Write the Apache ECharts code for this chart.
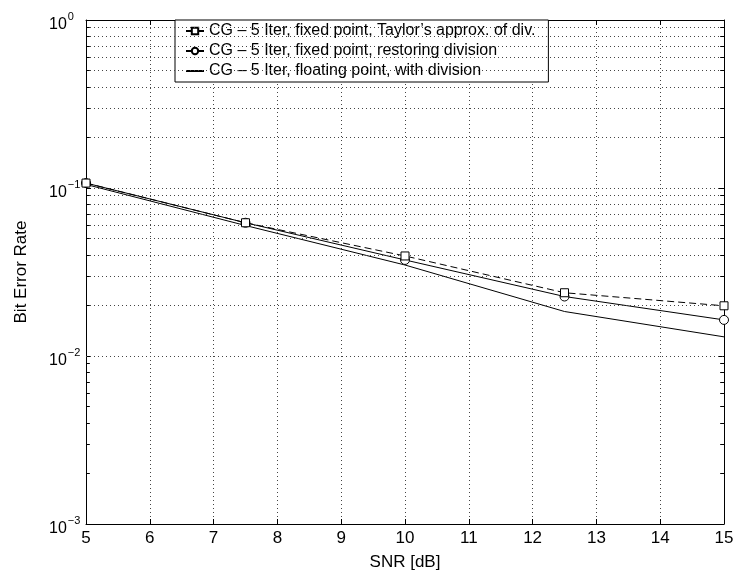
<!DOCTYPE html>
<html>
<head>
<meta charset="utf-8">
<script src="https://cdn.jsdelivr.net/npm/echarts@6/dist/echarts.min.js"></script>
<style>
html,body{margin:0;padding:0;background:#fff;}
#chart{width:738px;height:579px;}
</style>
</head>
<body>
<div id="chart"></div>
<script>
// ---- data ----
var snr = [5, 7.5, 10, 12.5, 15];
var berTaylor = [0.107, 0.0621, 0.0394, 0.0238, 0.0199];
var berRestoring = [0.107, 0.0621, 0.0373, 0.0226, 0.0164];
var berFloating = [0.105, 0.0598, 0.0348, 0.0184, 0.0130];
var seriesNames = [
  "CG \u2013 5 Iter, fixed point, Taylor\u2019s approx. of div.",
  "CG \u2013 5 Iter, fixed point, restoring division",
  "CG \u2013 5 Iter, floating point, with division"
];
var xTicks = [5, 6, 7, 8, 9, 10, 11, 12, 13, 14, 15];
var yExponents = [-3, -2, -1, 0];
var minorMultipliers = [2, 3, 4, 5, 6, 7, 8, 9];

var FONT = "Liberation Sans, Arial, Helvetica, sans-serif";

function pairs(xs, ys) {
  return xs.map(function (x, i) { return [x, ys[i]]; });
}

// minor grid values
var minorVals = [];
for (var e = yExponents[0]; e < yExponents[yExponents.length - 1]; e++) {
  minorMultipliers.forEach(function (m) { minorVals.push(m * Math.pow(10, e)); });
}
var xMin = xTicks[0], xMax = xTicks[xTicks.length - 1];
var gridLines = minorVals.map(function (v) { return { yAxis: v }; });
var tickLen = 0.06;
var minorTicks = [];
minorVals.forEach(function (v) {
  minorTicks.push([{ coord: [xMin, v] }, { coord: [xMin + tickLen, v] }]);
  minorTicks.push([{ coord: [xMax - tickLen, v] }, { coord: [xMax, v] }]);
});

function supLabel(v) {
  var e = Math.round(Math.log10(v));
  var s = e < 0 ? "\u2212" + (-e) : String(e);
  return "{b|10}{s|" + s + "}";
}

var chart = echarts.init(document.getElementById("chart"));
var option = {
  animation: false,
  backgroundColor: "#fff",
  textStyle: { fontFamily: FONT },
  grid: { left: 86, top: 20, right: 14, bottom: 55 },
  legend: {
    orient: "vertical",
    left: 175,
    top: 20,
    padding: [3, 13, 3, 10],
    itemGap: 4,
    itemWidth: 18,
    itemHeight: 8,
    borderColor: "#000",
    borderWidth: 1,
    borderRadius: 0,
    backgroundColor: "#fff",
    textStyle: { fontFamily: FONT, fontSize: 16, color: "#000" },
    data: [
      { name: seriesNames[0] },
      { name: seriesNames[1] },
      { name: seriesNames[2], itemStyle: { opacity: 0 } }
    ]
  },
  xAxis: [{
    type: "value",
    min: xMin, max: xMax, interval: 1,
    name: "SNR [dB]",
    nameLocation: "middle",
    nameGap: 30,
    nameTextStyle: { fontFamily: FONT, fontSize: 17, color: "#000" },
    axisLine: { show: true, lineStyle: { color: "#000", width: 1 } },
    axisTick: { show: true, inside: true, length: 5, lineStyle: { color: "#000" } },
    axisLabel: { fontFamily: FONT, fontSize: 17, color: "#000", margin: 6 },
    splitLine: { show: true, lineStyle: { color: "#444", type: [1, 3], width: 1 } }
  }, {
    type: "value",
    position: "top",
    min: xMin, max: xMax, interval: 1,
    axisLine: { show: true, lineStyle: { color: "#000", width: 1 } },
    axisTick: { show: true, inside: true, length: 5, lineStyle: { color: "#000" } },
    axisLabel: { show: false },
    splitLine: { show: false }
  }],
  yAxis: [{
    type: "log",
    logBase: 10,
    min: Math.pow(10, yExponents[0]),
    max: Math.pow(10, yExponents[yExponents.length - 1]),
    name: "Bit Error Rate",
    nameLocation: "middle",
    nameGap: 56,
    nameRotate: 90,
    nameTextStyle: { fontFamily: FONT, fontSize: 17, color: "#000" },
    axisLine: { show: true, lineStyle: { color: "#000", width: 1 } },
    axisTick: { show: true, inside: true, length: 5, lineStyle: { color: "#000" } },
    axisLabel: {
      align: "left",
      margin: 37,
      formatter: supLabel,
      rich: {
        b: { fontFamily: FONT, fontSize: 16, color: "#000", padding: [9, 0, 0, 0] },
        s: { fontFamily: FONT, fontSize: 11, color: "#000", padding: [0, 0, 7, 1] }
      }
    },
    splitLine: { show: true, lineStyle: { color: "#444", type: [1, 3], width: 1 } }
  }, {
    type: "log",
    logBase: 10,
    position: "right",
    min: Math.pow(10, yExponents[0]),
    max: Math.pow(10, yExponents[yExponents.length - 1]),
    axisLine: { show: true, lineStyle: { color: "#000", width: 1 } },
    axisTick: { show: true, inside: true, length: 5, lineStyle: { color: "#000" } },
    axisLabel: { show: false },
    splitLine: { show: false }
  }],
  series: [{
    name: "minor-grid",
    type: "line",
    data: [],
    silent: true,
    markLine: {
      silent: true,
      symbol: "none",
      label: { show: false },
      lineStyle: { color: "#444", type: [1, 3], width: 1 },
      data: gridLines
    }
  }, {
    name: "minor-ticks",
    type: "line",
    data: [],
    silent: true,
    markLine: {
      silent: true,
      symbol: "none",
      label: { show: false },
      lineStyle: { color: "#000", type: "solid", width: 1 },
      data: minorTicks
    }
  }, {
    name: seriesNames[0],
    type: "line",
    data: pairs(snr, berTaylor),
    symbol: "rect",
    symbolSize: 8,
    itemStyle: { color: "#fff", borderColor: "#000", borderWidth: 1 },
    lineStyle: { color: "#000", width: 1, type: [7, 4] },
    z: 5
  }, {
    name: seriesNames[1],
    type: "line",
    data: pairs(snr, berRestoring),
    symbol: "circle",
    symbolSize: 9,
    itemStyle: { color: "#fff", borderColor: "#000", borderWidth: 1 },
    lineStyle: { color: "#000", width: 1, type: "solid" },
    z: 4
  }, {
    name: seriesNames[2],
    type: "line",
    data: pairs(snr, berFloating),
    symbol: "none",
    itemStyle: { color: "#000" },
    lineStyle: { color: "#000", width: 1, type: "solid" },
    z: 3
  }]
};
chart.setOption(option);
</script>
</body>
</html>
